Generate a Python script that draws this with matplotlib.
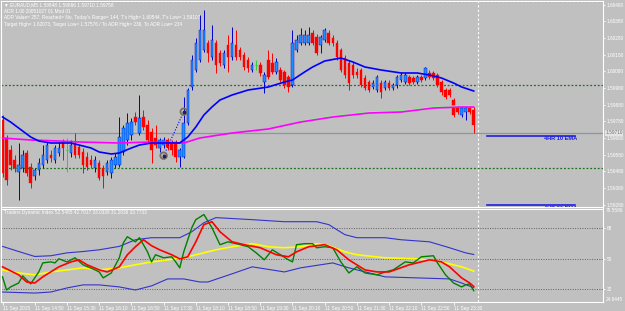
import numpy as np
import matplotlib
matplotlib.use("Agg")
import matplotlib.pyplot as plt

plt.rcParams['font.family'] = ['Liberation Sans', 'DejaVu Sans']

##### EURAUD M5, 11 Sep 2015 - bars
opens = [1.59788, 1.59680, 1.59608, 1.59548, 1.59476, 1.59500, 1.59590, 1.59506, 1.59452, 1.59488,
         1.59518, 1.59548, 1.59578, 1.59548, 1.59590, 1.59656, 1.59608, 1.59590, 1.59650, 1.59626,
         1.59596, 1.59566, 1.59548, 1.59500, 1.59530, 1.59500, 1.59476, 1.59470, 1.59518, 1.59518,
         1.59596, 1.59668, 1.59698, 1.59806, 1.59710, 1.59806, 1.59758, 1.59716, 1.59680, 1.59620,
         1.59638, 1.59668, 1.59656, 1.59656, 1.59566, 1.59566, 1.59770, 1.59986, 1.60088, 1.60148,
         1.60208, 1.60250, 1.60166, 1.60250, 1.60190, 1.60118, 1.60238, 1.60166, 1.60238, 1.60208,
         1.60178, 1.60148, 1.60088, 1.60118, 1.60118, 1.60016, 1.60148, 1.60130, 1.60076, 1.60088,
         1.60076, 1.60046, 1.59998, 1.60208, 1.60250, 1.60250, 1.60250, 1.60310, 1.60286, 1.60238,
         1.60268, 1.60310, 1.60280, 1.60250, 1.60208, 1.60160, 1.60130, 1.60118, 1.60076, 1.60088,
         1.60040, 1.60016, 1.59986, 1.59968, 1.60010, 1.59980, 1.60010, 1.59980, 1.59998, 1.60028,
         1.60016, 1.60046, 1.60040, 1.60016, 1.60046, 1.60040, 1.60070, 1.60070, 1.60058, 1.60016,
         1.59968, 1.59968, 1.59908, 1.59866, 1.59818, 1.59836, 1.59860, 1.59848]
highs = [1.59818, 1.59698, 1.59638, 1.59578, 1.59650, 1.59608, 1.59608, 1.59530, 1.59500, 1.59560,
         1.59638, 1.59656, 1.59608, 1.59638, 1.59656, 1.59674, 1.59680, 1.59668, 1.59710, 1.59638,
         1.59620, 1.59596, 1.59578, 1.59572, 1.59548, 1.59518, 1.59548, 1.59566, 1.59590, 1.59806,
         1.59758, 1.59830, 1.59800, 1.59836, 1.59938, 1.59848, 1.59788, 1.59740, 1.59758, 1.59680,
         1.59686, 1.59680, 1.59668, 1.59668, 1.59620, 1.59926, 1.59980, 1.60178, 1.60280, 1.60418,
         1.60448, 1.60268, 1.60358, 1.60268, 1.60208, 1.60208, 1.60298, 1.60346, 1.60328, 1.60226,
         1.60196, 1.60166, 1.60136, 1.60148, 1.60136, 1.60076, 1.60208, 1.60190, 1.60160, 1.60106,
         1.60088, 1.60058, 1.60328, 1.60298, 1.60340, 1.60328, 1.60346, 1.60328, 1.60304, 1.60298,
         1.60340, 1.60328, 1.60298, 1.60268, 1.60220, 1.60178, 1.60148, 1.60136, 1.60100, 1.60100,
         1.60058, 1.60028, 1.60028, 1.60058, 1.60028, 1.60028, 1.60028, 1.60010, 1.60058, 1.60076,
         1.60070, 1.60058, 1.60052, 1.60058, 1.60058, 1.60106, 1.60088, 1.60082, 1.60070, 1.60028,
         1.59980, 1.59980, 1.59920, 1.59878, 1.59872, 1.59872, 1.59872, 1.59866]
lows = [1.59446, 1.59398, 1.59488, 1.59476, 1.59308, 1.59476, 1.59452, 1.59380, 1.59428, 1.59458,
        1.59500, 1.59530, 1.59536, 1.59530, 1.59572, 1.59548, 1.59476, 1.59566, 1.59560, 1.59560,
        1.59470, 1.59488, 1.59500, 1.59476, 1.59428, 1.59380, 1.59458, 1.59440, 1.59500, 1.59506,
        1.59578, 1.59638, 1.59668, 1.59758, 1.59698, 1.59728, 1.59656, 1.59530, 1.59620, 1.59596,
        1.59620, 1.59608, 1.59578, 1.59536, 1.59506, 1.59560, 1.59758, 1.59968, 1.60076, 1.60136,
        1.60196, 1.60136, 1.60148, 1.60070, 1.60112, 1.60100, 1.60076, 1.60148, 1.60148, 1.60148,
        1.60088, 1.60076, 1.60076, 1.60088, 1.60052, 1.59950, 1.60034, 1.60064, 1.60064, 1.60016,
        1.59980, 1.59956, 1.59986, 1.60196, 1.60238, 1.60238, 1.60238, 1.60238, 1.60178, 1.60190,
        1.60256, 1.60238, 1.60232, 1.60148, 1.60076, 1.60040, 1.59968, 1.60040, 1.60040, 1.59986,
        1.59968, 1.59956, 1.59974, 1.59956, 1.59920, 1.59968, 1.59968, 1.59968, 1.59980, 1.60016,
        1.60004, 1.59998, 1.60004, 1.60004, 1.60016, 1.60028, 1.60034, 1.60028, 1.59986, 1.59938,
        1.59914, 1.59926, 1.59806, 1.59824, 1.59806, 1.59788, 1.59824, 1.59710]
closes = [1.59470, 1.59428, 1.59518, 1.59500, 1.59518, 1.59578, 1.59470, 1.59410, 1.59488, 1.59530,
          1.59578, 1.59638, 1.59560, 1.59620, 1.59620, 1.59620, 1.59608, 1.59638, 1.59578, 1.59578,
          1.59518, 1.59506, 1.59518, 1.59548, 1.59440, 1.59452, 1.59530, 1.59548, 1.59566, 1.59686,
          1.59740, 1.59770, 1.59776, 1.59776, 1.59800, 1.59746, 1.59668, 1.59608, 1.59638, 1.59668,
          1.59668, 1.59626, 1.59608, 1.59566, 1.59608, 1.59770, 1.59968, 1.60148, 1.60250, 1.60328,
          1.60328, 1.60190, 1.60268, 1.60118, 1.60130, 1.60190, 1.60166, 1.60250, 1.60166, 1.60166,
          1.60106, 1.60100, 1.60118, 1.60118, 1.60070, 1.60058, 1.60046, 1.60076, 1.60136, 1.60028,
          1.59998, 1.59986, 1.60250, 1.60268, 1.60298, 1.60298, 1.60298, 1.60250, 1.60190, 1.60286,
          1.60328, 1.60250, 1.60250, 1.60166, 1.60088, 1.60058, 1.60010, 1.60058, 1.60058, 1.59998,
          1.59980, 1.59968, 1.60010, 1.60046, 1.59956, 1.60016, 1.59980, 1.59998, 1.60046, 1.60058,
          1.60058, 1.60010, 1.60016, 1.60046, 1.60028, 1.60100, 1.60046, 1.60040, 1.59998, 1.59956,
          1.59926, 1.59938, 1.59818, 1.59836, 1.59860, 1.59860, 1.59836, 1.59758]

##### moving averages on the price window (bar index, price)
ema_idx = [0, 2, 4, 7, 9, 12, 17, 19, 22, 24, 27, 29, 32, 34, 37, 44, 46, 48, 50, 52,
           54, 57, 61, 66, 70, 72, 75, 77, 80, 84, 87, 90, 94, 99, 103, 106, 109, 112, 114, 117]
ema_val = [1.59806, 1.59776, 1.59740, 1.59686, 1.59662, 1.59650, 1.59650, 1.59638, 1.59620, 1.59596,
           1.59584, 1.59590, 1.59620, 1.59638, 1.59650, 1.59650, 1.59686, 1.59746, 1.59818, 1.59866,
           1.59908, 1.59938, 1.59968, 1.59986, 1.60016, 1.60028, 1.60076, 1.60106, 1.60142, 1.60160,
           1.60136, 1.60106, 1.60088, 1.60070, 1.60070, 1.60058, 1.60040, 1.60010, 1.59986, 1.59962]
sma_idx = [0, 7, 14, 19, 29, 37, 45, 49, 57, 66, 74, 82, 91, 99, 107, 114, 117]
sma_val = [1.59680, 1.59668, 1.59662, 1.59656, 1.59650, 1.59656, 1.59650, 1.59680, 1.59710,
           1.59734, 1.59776, 1.59806, 1.59830, 1.59836, 1.59860, 1.59866, 1.59866]
lma_idx = [74, 82, 91, 99, 107, 114, 117]
lma_val = [1.59782, 1.59812, 1.59836, 1.59842, 1.59866, 1.59872, 1.59872]

##### trade history markers
trade_idx = [40, 45]
trade_px = [1.59574, 1.59838]

##### levels
round_levels = [1.6050, 1.6000, 1.5950]
bid = 1.59710
ema4h_10 = 1.59692
ema4h_20 = 1.59278
price_ticks = [1.60480, 1.60380, 1.60280, 1.60180, 1.60080, 1.59980, 1.59880,
               1.59780, 1.59680, 1.59580, 1.59480, 1.59380, 1.59280]

##### Traders Dynamic Index (bar index, value)
up_idx = [0, 4, 8, 12, 16, 20, 24, 29, 33, 37, 44, 47, 50, 53, 62, 70, 78, 81, 85, 88,
          95, 99, 106, 111, 115, 117]
up_val = [57.3, 54.3, 51.4, 51.8, 53.5, 54.3, 55.3, 57.3, 61.2, 62.4, 62.4, 65.9, 71.2, 74.2,
          73.0, 71.8, 71.8, 70.1, 64.2, 62.4, 62.4, 61.2, 60.0, 56.5, 53.5, 52.5485]
lo_idx = [0, 8, 12, 16, 20, 24, 29, 33, 37, 41, 45, 49, 51, 57, 62, 70, 74, 82, 86, 95,
          103, 111, 114, 117]
lo_val = [30.5, 29.9, 30.5, 32.9, 34.7, 34.7, 33.5, 31.7, 34.1, 38.2, 38.2, 36.4, 36.4, 41.2,
          45.3, 42.3, 44.7, 47.6, 44.7, 39.4, 38.8, 38.2, 35.8, 33.0339]
base_idx = [0, 4, 8, 12, 16, 20, 24, 29, 33, 37, 45, 53, 57, 62, 66, 70, 74, 78, 81, 85,
            88, 95, 103, 109, 114, 117]
base_val = [43.5, 41.7, 40.6, 42.3, 43.5, 44.7, 43.5, 44.7, 46.5, 48.2, 50.6, 55.3, 57.1, 58.9,
            57.1, 56.5, 57.1, 58.9, 57.7, 54.1, 52.4, 50.6, 50.0, 48.2, 45.3, 42.7917]
sig_idx = [0, 4, 6, 8, 10, 14, 17, 19, 21, 24, 26, 29, 31, 33, 35, 37, 39, 42, 44, 46,
           48, 50, 52, 54, 57, 60, 64, 68, 71, 73, 76, 80, 83, 86, 90, 93, 96, 101, 106, 109,
           111, 114, 116, 117]
sig_val = [45.3, 40.6, 36.4, 35.8, 39.4, 45.3, 48.2, 49.4, 46.5, 43.5, 42.3, 45.3, 52.4, 57.1,
           61.2, 57.7, 55.3, 52.4, 50.0, 51.2, 60.0, 70.1, 71.8, 65.9, 60.0, 58.3, 56.5, 52.4,
           51.2, 54.1, 57.1, 58.3, 55.3, 49.4, 43.5, 42.3, 42.3, 46.5, 49.4, 48.2, 45.3, 38.8,
           35.8, 33.7733]
rsi_idx = [0, 1, 2, 4, 5, 6, 7, 9, 10, 12, 13, 14, 16, 18, 20, 23, 24, 25, 27, 29,
           30, 31, 33, 34, 36, 37, 38, 40, 42, 43, 44, 45, 47, 48, 50, 52, 54, 56, 58, 61,
           63, 65, 67, 69, 71, 72, 73, 75, 77, 78, 80, 82, 84, 86, 88, 90, 93, 95, 97, 100,
           102, 104, 107, 108, 110, 112, 114, 115, 116, 117]
rsi_val = [39.4, 31.7, 33.5, 35.8, 40.0, 37.6, 35.3, 42.3, 47.6, 48.2, 47.6, 50.0, 48.2, 50.6,
           46.5, 43.5, 42.3, 38.8, 41.7, 50.6, 59.4, 63.0, 60.0, 62.4, 54.1, 48.2, 52.4, 50.6,
           51.2, 48.2, 44.7, 54.1, 68.3, 73.0, 76.0, 68.3, 58.3, 60.0, 58.9, 57.1, 53.5, 49.4,
           55.3, 52.4, 49.4, 48.2, 58.3, 58.9, 58.9, 56.5, 57.1, 56.5, 48.2, 41.7, 45.3, 41.7,
           40.6, 42.3, 43.5, 48.2, 47.6, 51.2, 51.8, 47.6, 40.6, 35.8, 33.5, 34.7, 35.3, 31.2836]
tdi_levels = [68, 50, 32]
tdi_min, tdi_max = 24.6445, 79.5586

time_idx = [0, 8, 16, 24, 32, 40, 48, 56, 64, 72, 80, 88, 96, 104, 112]
time_labels = ["11 Sep 2015", "11 Sep 14:50", "11 Sep 15:30", "11 Sep 16:10", "11 Sep 16:50",
               "11 Sep 17:30", "11 Sep 18:10", "11 Sep 18:50", "11 Sep 19:30", "11 Sep 20:10",
               "11 Sep 20:50", "11 Sep 21:30", "11 Sep 22:10", "11 Sep 22:50", "11 Sep 23:30"]

BG = "#C0C0C0"
FS = 3.4
o = np.array(opens); h = np.array(highs); l = np.array(lows); c = np.array(closes)
idx = np.arange(len(o))

fig = plt.figure(figsize=(6.25, 3.11), dpi=100, facecolor=BG)
ax = fig.add_axes([0.5/625, 1-206.5/311, 602.5/625, 205.5/311], facecolor=BG)
ax2 = fig.add_axes([0.5/625, 1-302/311, 602.5/625, 93.5/311], facecolor=BG)
XL = (-0.5, 149.1)

##### main window
for lv in round_levels:
    ax.axhline(lv, color="#1F6F1F", lw=0.9, ls=(0, (1.5, 1.5)), zorder=1)
ax.axhline(bid, color="#8C96A0", lw=0.9, zorder=1)

up = c > o
dn = c < o
dj = c == o
ax.vlines(idx[up], l[up], h[up], colors="#0000CD", lw=0.7, zorder=2)
ax.vlines(idx[dn], l[dn], h[dn], colors="#FF0000", lw=0.7, zorder=2)
ax.vlines(idx[dj], l[dj], h[dj], colors="#32CD32", lw=0.7, zorder=2)
ax.bar(idx[up], (c - o)[up], bottom=o[up], width=0.62, color="#1E90FF",
       edgecolor="#0000CD", linewidth=0.3, zorder=2)
ax.bar(idx[dn], (o - c)[dn], bottom=c[dn], width=0.62, color="#FF0000",
       edgecolor="#FF0000", linewidth=0.3, zorder=2)
ax.hlines(o[dj], idx[dj] - 0.3, idx[dj] + 0.3, colors="#32CD32", lw=0.8, zorder=2)

ax.plot(lma_idx, lma_val, color="#90EE90", lw=1.2, zorder=3)
ax.plot(sma_idx, sma_val, color="#FF00FF", lw=1.2, zorder=3)
ax.plot(ema_idx, ema_val, color="#0000FF", lw=1.2, zorder=3)

ax.plot(trade_idx, trade_px, color="#0000FF", lw=0.8, ls=(0, (1, 1.5)), zorder=4)
ax.scatter(trade_idx, trade_px, s=22, facecolors="none", edgecolors="#7A7060", linewidths=1.3, zorder=5)
ax.scatter(trade_idx, trade_px, s=3, color="#202060", zorder=6)

ax.axhline(ema4h_10, xmin=487/603, xmax=575/603, color="#2020E0", lw=1.2, zorder=3)
ax.axhline(ema4h_20, xmin=487/603, xmax=575/603, color="#2020E0", lw=1.2, zorder=3)
ax.text(577/603, ema4h_10, "4HR 10 EMA", transform=ax.get_yaxis_transform(), ha="right",
        va="top", fontsize=4.1, fontweight="bold", color="#2020E0")
ax.text(577/603, ema4h_20 - 0.00005, "4HR 20 EMA", transform=ax.get_yaxis_transform(), ha="right",
        va="top", fontsize=4.1, fontweight="bold", color="#2020E0", clip_on=True)

ax.axvline(118, color="white", lw=0.8, ls=(0, (2, 2)), zorder=1)
ax.set_xlim(*XL)
ax.set_ylim(1.59269, 1.60502)
ax.set_xticks([])
ax.yaxis.tick_right()
ax.set_yticks(price_ticks, ["%.5f" % p for p in price_ticks])
ax.tick_params(axis="y", colors="white", labelsize=FS, length=1.5, width=0.6, pad=1)
ax.text(1.004, bid, "%.5f" % bid, transform=ax.get_yaxis_transform(), fontsize=FS,
        color="#707070", va="center", ha="left",
        bbox=dict(boxstyle="square,pad=0.15", fc="#E4E4E4", ec="none"), clip_on=False)

header = ["\u25bc EURAUD,M5 %.5f %.5f %.5f %.5f" % (opens[-1], highs[-1], lows[-1], closes[-1]),
          "ADR 1.00 20051027 01 Mod 01",
          "ADR Value= 257, Reached= No, Today's Range= 144, T's High= 1.60544, T's Low= 1.59107",
          "Target High= 1.62073, Target Low= 1.57576 / To ADR High= 236, To ADR Low= 234"]
for k, line in enumerate(header):
    fig.text(4/625, 1 - (5 + 6.4*k)/311, line, fontsize=FS, color="white", va="center",
             family=["Liberation Sans", "DejaVu Sans"])

##### Traders Dynamic Index window
for lv in tdi_levels:
    ax2.axhline(lv, color="#606060", lw=0.7, ls=(0, (1, 1.5)), zorder=1)
ax2.plot(up_idx, up_val, color="#3333CC", lw=0.8, zorder=2)
ax2.plot(lo_idx, lo_val, color="#3333CC", lw=0.8, zorder=2)
ax2.plot(base_idx, base_val, color="#FFFF00", lw=1.2, zorder=3)
ax2.plot(rsi_idx, rsi_val, color="#008000", lw=1.0, zorder=4)
ax2.plot(sig_idx, sig_val, color="#FF0000", lw=1.2, zorder=5)
ax2.axvline(118, color="white", lw=0.8, ls=(0, (2, 2)), zorder=1)
ax2.set_xlim(*XL)
ax2.set_ylim(tdi_min, tdi_max)
ax2.yaxis.tick_right()
ax2.set_yticks(tdi_levels, [str(v) for v in tdi_levels])
ax2.tick_params(axis="y", colors="white", labelsize=FS, length=1.5, width=0.6, pad=1)
ax2.set_xticks(time_idx, time_labels)
for t in ax2.get_xticklabels():
    t.set_ha("left")
ax2.tick_params(axis="x", colors="white", labelsize=FS, length=2, width=0.6, pad=1)
ax2.text(1.005, 1.0, "%.4f" % tdi_max, transform=ax2.transAxes, fontsize=FS, color="white",
         va="top", ha="left")
ax2.text(1.005, 0.0, "%.4f" % tdi_min, transform=ax2.transAxes, fontsize=FS, color="white",
         va="bottom", ha="left")
ax2.text(4/602.5, 0.955, "Traders Dynamic Index 52.5485 42.7917 33.0339 31.2836 33.7733",
         transform=ax2.transAxes, fontsize=FS, color="white", va="center")

for a in (ax, ax2):
    for s in a.spines.values():
        s.set_color("white")
        s.set_linewidth(0.8)

fig.savefig("out.png", dpi=100, facecolor=BG)
